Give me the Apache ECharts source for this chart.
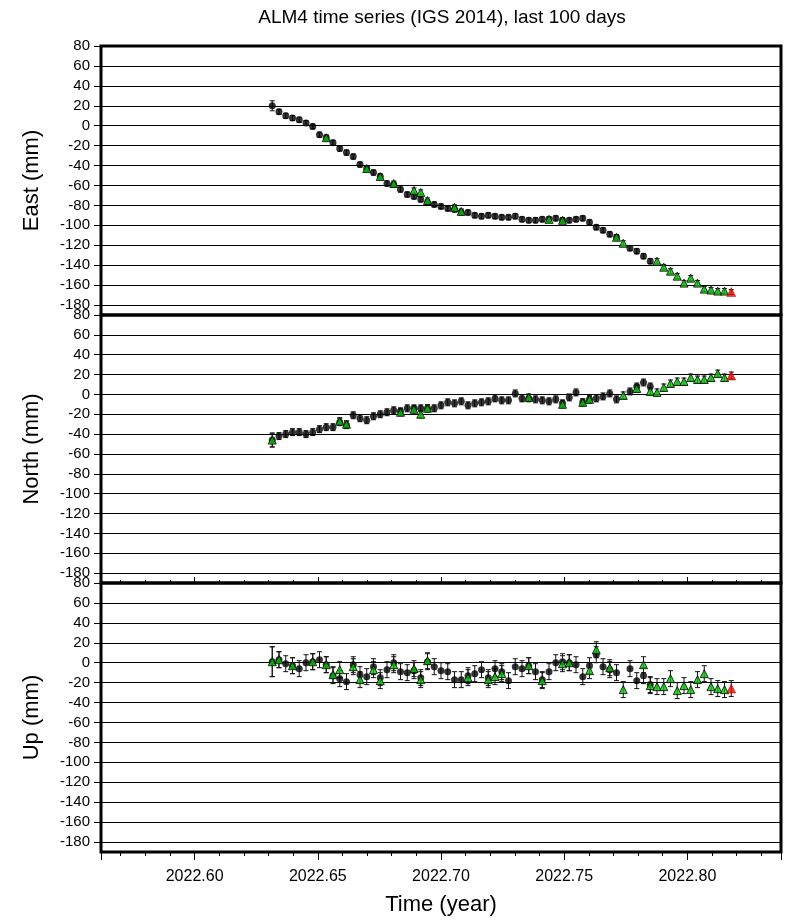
<!DOCTYPE html>
<html><head><meta charset="utf-8">
<script src="https://cdn.jsdelivr.net/npm/echarts@6/dist/echarts.min.js"></script>
<style>html,body{margin:0;padding:0;background:#fff}#c{width:787px;height:920px}</style>
</head><body><div id="c"></div>
<script>
// Day of year 2022 (one sample per day)
const days = [231,232,233,234,235,236,237,238,239,240,241,242,243,244,245,246,247,248,249,250,
  251,252,253,254,255,256,257,258,259,260,261,262,263,264,265,266,267,268,269,270,
  271,272,273,274,275,276,277,278,279,280,281,282,283,284,285,286,287,288,289,290,
  291,292,293,294,295,296,297,298,299];
const N = null;
const eastBlack = [20,14,10,7.7,6,2.7,-0.7,-9,-12,-17,-23,-27,-31,-39,-43,-47,-51,-58,-59,-64,
  -69,-71,-74,-77,-79,-81,-83,-84,-87,-87,-90,-91,-90,-91,-92,-92,-91,-94,-95,-95,
  -94,-94,-93,-95,-95,-94,-93,-97,-102,-105,-109,-112,N,-123,-126,-131,-136,N,N,N,
  N,N,N,N,N,N,N,N,N];
const eastGreen = [N,N,N,N,N,N,N,N,-12,N,N,N,N,N,-43,N,-51,N,-58,N,
  N,-65,-67,-75,N,N,N,-82,-86,N,N,N,N,N,N,N,N,N,N,N,
  N,-94,N,-95,N,N,N,N,N,N,N,-112,-118,N,N,N,N,-136,-142,-146,
  -151,-158,-153,-158,-164,-165,-166,-166,N];
const eastRed = [N,N,N,N,N,N,N,N,N,N,N,N,N,N,N,N,N,N,N,N,N,N,N,N,N,N,N,N,N,N,N,N,N,N,N,N,N,N,N,N,
  N,N,N,N,N,N,N,N,N,N,N,N,N,N,N,N,N,N,N,N,N,N,N,N,N,N,N,N,-167];

const northBlack = [-46,-42,-40,-38,-38,-40,-38,-35,-33,-33,-28,-31,-21,-24,-26,-22,-20,-18,-16,-17,
  -14,-14,-14,-14,-14,-11,-8,-9,-7,-11,-9,-8,-7,-4,-6,-6,1,-4,-4,-5,
  -6,-7,-5,-9,-3,2,-8,-5,-4,-2,1,-5,N,3,8,12,8,N,N,N,
  N,N,N,N,N,N,N,N,N];
const northGreen = [-46,N,N,N,N,N,N,N,N,N,-27,-30,N,N,N,N,N,N,N,-18,
  N,-15,-20,-14,N,N,N,N,N,N,N,N,N,N,N,N,N,N,-3,N,
  N,N,N,-10,N,N,-8,-5,N,N,N,N,-1,N,6,N,3,2,7,11,
  13,13,17,15,15,17,21,17,N];
const northRed = [N,N,N,N,N,N,N,N,N,N,N,N,N,N,N,N,N,N,N,N,N,N,N,N,N,N,N,N,N,N,N,N,N,N,N,N,N,N,N,N,
  N,N,N,N,N,N,N,N,N,N,N,N,N,N,N,N,N,N,N,N,N,N,N,N,N,N,N,N,19];

const upBlack = [1,3,-1,-3,-6,0,1,3,-2,-13,-16,-19,-2,-12,-14,-4,-15,-7,0,-9,
  -10,-8,-15,1,-4,-8,-9,-17,-17,-13,-11,-7,-15,-6,-9,-18,-4,-6,-3,-9,
  -17,-9,0,1,0,-2,-14,-3,8,-4,-7,-10,N,-6,-18,-13,-22,N,N,N,
  N,N,N,N,N,N,N,N,N];
const upGreen = [1,3,N,-3,N,N,1,N,-2,-12,-7,N,-4,-17,N,-7,-18,N,-2,N,
  N,-6,-17,2,N,N,N,N,N,-15,N,N,-17,-14,-11,N,N,N,-3,N,
  -18,N,N,-1,0,N,N,-8,13,N,-5,N,-27,N,N,-2,-23,-24,-24,-16,
  -28,-23,-27,-17,-11,-24,-26,-27,N];
const upRed = [N,N,N,N,N,N,N,N,N,N,N,N,N,N,N,N,N,N,N,N,N,N,N,N,N,N,N,N,N,N,N,N,N,N,N,N,N,N,N,N,
  N,N,N,N,N,N,N,N,N,N,N,N,N,N,N,N,N,N,N,N,N,N,N,N,N,N,N,N,-26];

// 1-sigma error (mm): typical value and first-day value per component
const eastErr = [2.5, 5];
const northErr = [3.5, 7];
const upErr = [8, 15];

const panelNames = ['East (mm)', 'North (mm)', 'Up (mm)'];
const titleText = 'ALM4 time series (IGS 2014), last 100 days';
const xName = 'Time (year)';

const FONT = 'Liberation Sans, Arial, Helvetica, sans-serif';
const years = days.map(d => 2022 + (d - 0.5) / 365);

function pts(vals, err) {
  const out = [];
  vals.forEach((v, i) => { if (v !== null) out.push([years[i], v, i === 0 ? err[1] : err[0]]); });
  return out;
}

function errRender(params, api) {
  const x = api.value(0), y = api.value(1), e = api.value(2);
  const t = api.coord([x, y + e]), b = api.coord([x, y - e]);
  const hw = 2.5, st = {stroke: '#111', lineWidth: 1};
  return {type: 'group', children: [
    {type: 'line', shape: {x1: t[0], y1: t[1], x2: b[0], y2: b[1]}, style: st},
    {type: 'line', shape: {x1: t[0] - hw, y1: t[1], x2: t[0] + hw, y2: t[1]}, style: st},
    {type: 'line', shape: {x1: b[0] - hw, y1: b[1], x2: b[0] + hw, y2: b[1]}, style: st}
  ]};
}

const grids = [
  {left: 101, top: 46, width: 680, height: 269},
  {left: 101, top: 315, width: 680, height: 268},
  {left: 101, top: 583, width: 680, height: 269}
].map(g => Object.assign(g, {show: true, borderColor: '#000', borderWidth: 3, backgroundColor: 'transparent'}));

const xAxes = [0, 1, 2].map(i => ({
  gridIndex: i, type: 'value', min: 2022.562, max: 2022.838, position: 'bottom',
  axisLine: {show: false, onZero: false},
  axisTick: {show: i > 0, inside: i === 1, length: i === 1 ? 6 : 8, lineStyle: {color: '#000', width: 1}},
  minorTick: {show: i > 0, splitNumber: 5, length: i === 1 ? 3 : 4, lineStyle: {color: '#000', width: 1}},
  axisLabel: {show: i === 2, showMinLabel: false, showMaxLabel: false, fontSize: 16, color: '#000',
    fontFamily: FONT, margin: 17, formatter: v => v.toFixed(2)},
  splitLine: {show: false},
  name: i === 2 ? xName : '', nameLocation: 'middle', nameGap: 42,
  nameTextStyle: {fontSize: 22, color: '#000', fontFamily: FONT}
}));

const yAxes = [0, 1, 2].map(i => ({
  gridIndex: i, type: 'value', min: -190, max: 80, splitNumber: 13,
  axisLine: {show: false, onZero: false},
  axisTick: {show: true, length: 7, lineStyle: {color: '#000', width: 1}},
  axisLabel: {showMinLabel: false, fontSize: 15, color: '#000', fontFamily: FONT, margin: 11,
    formatter: v => (v < -185 ? '' : String(v))},
  splitLine: {show: true, lineStyle: {color: '#000', width: 1}},
  name: panelNames[i], nameLocation: 'middle', nameGap: 58, nameRotate: 90,
  nameTextStyle: {fontSize: 22, color: '#000', fontFamily: FONT}
}));

const comps = [
  [eastBlack, eastGreen, eastRed, eastErr],
  [northBlack, northGreen, northRed, northErr],
  [upBlack, upGreen, upRed, upErr]
];
const series = [];
comps.forEach((c, i) => {
  const [blk, grn, red, err] = c;
  [blk, grn, red].forEach(arr => {
    series.push({type: 'custom', xAxisIndex: i, yAxisIndex: i, renderItem: errRender,
      data: pts(arr, err), encode: {x: 0, y: 1}, z: 3, silent: true, animation: false});
  });
  series.push({type: 'scatter', xAxisIndex: i, yAxisIndex: i, data: pts(blk, err),
    symbol: 'circle', symbolSize: 7, itemStyle: {color: '#000'}, z: 4, animation: false});
  series.push({type: 'scatter', xAxisIndex: i, yAxisIndex: i, data: pts(grn, err),
    symbol: 'triangle', symbolSize: 8, itemStyle: {color: '#00cc00', borderColor: '#000', borderWidth: 1}, z: 5, animation: false});
  series.push({type: 'scatter', xAxisIndex: i, yAxisIndex: i, data: pts(red, err),
    symbol: 'triangle', symbolSize: 9, itemStyle: {color: '#ff0000', borderColor: '#600', borderWidth: 0.5}, z: 6, animation: false});
});

const chart = echarts.init(document.getElementById('c'), null, {renderer: 'canvas'});
chart.setOption({
  backgroundColor: '#fff',
  animation: false,
  textStyle: {fontFamily: FONT},
  graphic: [{type: 'text', x: 442, y: 18, style: {text: titleText, font: '19px ' + FONT, fill: '#000',
    textAlign: 'center', textVerticalAlign: 'middle'}}],
  grid: grids,
  xAxis: xAxes,
  yAxis: yAxes,
  series: series
});
</script>
</body></html>
